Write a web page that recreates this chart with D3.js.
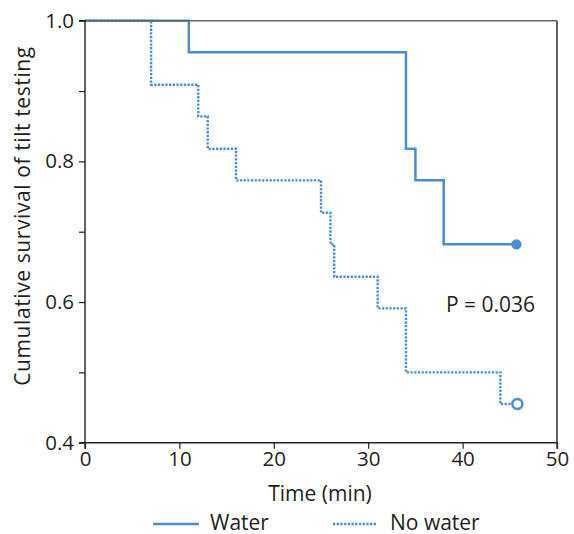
<!DOCTYPE html>
<html>
<head>
<meta charset="utf-8">
<script src="https://cdn.jsdelivr.net/npm/d3@7"></script>
<style>
  html, body { margin: 0; padding: 0; background: #fff; }
  svg { display: block; }
  text { font-family: "Open Sans", "Noto Sans", sans-serif; fill: #231f20; }
</style>
</head>
<body>
<svg id="chart" width="574" height="534"></svg>
<script>
// ---- data ----
const waterTimes   = [0, 11, 34, 35, 38, 45.7];
const waterSurv    = [1.0, 0.955, 0.818, 0.773, 0.682, 0.682];
const noWaterTimes = [0, 7, 12, 13, 16, 25, 26, 26.4, 31, 34, 44, 45.8];
const noWaterSurv  = [1.0, 0.909, 0.864, 0.818, 0.773, 0.727, 0.682, 0.636, 0.591, 0.5, 0.455, 0.455];
const xTicks = [0, 10, 20, 30, 40, 50];
const yTicks = [0.4, 0.5, 0.6, 0.7, 0.8, 0.9, 1.0];
const yLabeled = [0.4, 0.6, 0.8, 1.0];
const seriesNames = ["Water", "No water"];
const pText = "P = 0.036";

const blue = "#4a8fd0";
const svg = d3.select("#chart");
const L = 85, R = 557, T = 20.7, B = 442.7;
const x = d3.scaleLinear().domain([0, 50]).range([L, R]);
const y = d3.scaleLinear().domain([0.4, 1.0]).range([B, T]);

const g = svg.append("g");

// curves
const line = d3.line().x(d => x(d[0])).y(d => y(d[1])).curve(d3.curveStepAfter);
const water = waterTimes.map((t, i) => [t, waterSurv[i]]);
const noWater = noWaterTimes.map((t, i) => [t, noWaterSurv[i]]);

g.append("path").datum(noWater).attr("d", line)
  .attr("fill", "none").attr("stroke", blue).attr("stroke-width", 2.4)
  .attr("stroke-dasharray", "2.3 1.4");
g.append("path").datum(water).attr("d", line)
  .attr("fill", "none").attr("stroke", blue).attr("stroke-width", 2.5);

// censor markers
const wl = water[water.length - 1];
g.append("circle").attr("cx", x(wl[0])).attr("cy", y(wl[1])).attr("r", 5.2)
  .attr("fill", blue);
const nl = noWater[noWater.length - 1];
g.append("circle").attr("cx", x(nl[0])).attr("cy", y(nl[1])).attr("r", 5)
  .attr("fill", "#fff").attr("stroke", blue).attr("stroke-width", 2.5);

// frame top/right
g.append("line").attr("x1", L).attr("x2", R).attr("y1", T).attr("y2", T)
  .attr("stroke", "#666").attr("stroke-width", 1.6);
g.append("line").attr("x1", R).attr("x2", R).attr("y1", T).attr("y2", B)
  .attr("stroke", "#222").attr("stroke-width", 1.4);

// axes
const xAxis = d3.axisBottom(x).tickValues(xTicks).tickSize(6).tickPadding(3)
  .tickFormat(d3.format("d"));
const yAxis = d3.axisLeft(y).tickValues(yTicks).tickSize(6).tickPadding(5)
  .tickFormat(d => yLabeled.some(v => Math.abs(v - d) < 1e-9) ? d3.format(".1f")(d) : "");

const gx = svg.append("g").attr("transform", `translate(0,${B})`).call(xAxis);
const gy = svg.append("g").attr("transform", `translate(${L},0)`).call(yAxis);
[gx, gy].forEach(a => {
  a.select(".domain").attr("stroke", "#222").attr("stroke-width", 1.4);
  a.selectAll(".tick line").attr("stroke", "#222").attr("stroke-width", 1.2);
  a.selectAll(".tick text").attr("font-size", 20.5).attr("fill", "#231f20")
    .attr("font-family", "'Open Sans', 'Noto Sans', sans-serif");
});
gy.select(".domain").attr("d", `M-6,${T}H0V${B}H-6`);
gx.select(".domain").attr("d", `M${L},6V0H${R}V6`);

// axis titles
svg.append("text").attr("x", 320).attr("y", 501)
  .attr("text-anchor", "middle").attr("font-size", 21).text("Time (min)");
svg.append("text").attr("transform", `translate(30,216) rotate(-90)`)
  .attr("text-anchor", "middle").attr("font-size", 21).attr("letter-spacing", 0.6)
  .text("Cumulative survival of tilt testing");

// P value
svg.append("text").attr("x", 446).attr("y", 311.5).attr("font-size", 21).text(pText);

// legend
const lg = svg.append("g");
lg.append("line").attr("x1", 153).attr("x2", 199).attr("y1", 524).attr("y2", 524)
  .attr("stroke", blue).attr("stroke-width", 2.5);
lg.append("text").attr("x", 210).attr("y", 529.5).attr("font-size", 21).text(seriesNames[0]);
lg.append("line").attr("x1", 333).attr("x2", 377).attr("y1", 524).attr("y2", 524)
  .attr("stroke", blue).attr("stroke-width", 2.4).attr("stroke-dasharray", "2.3 1.4");
lg.append("text").attr("x", 390).attr("y", 529.5).attr("font-size", 21).text(seriesNames[1]);
</script>
</body>
</html>
